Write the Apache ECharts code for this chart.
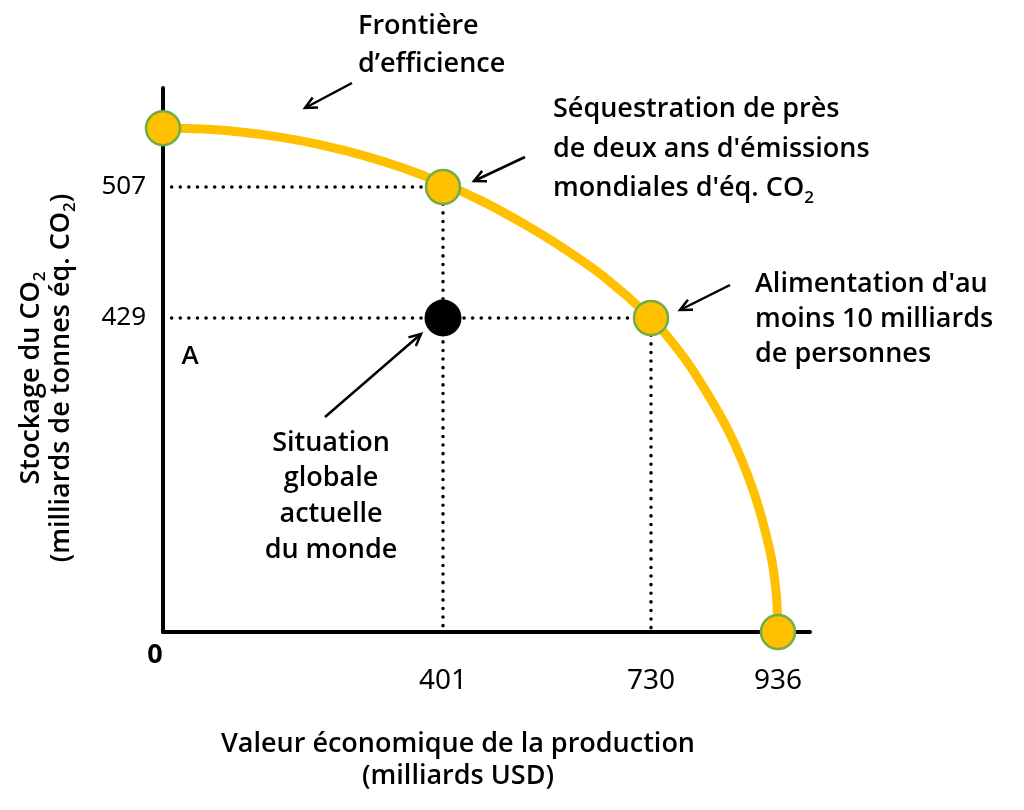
<!DOCTYPE html>
<html><head><meta charset="utf-8">
<script src="https://cdn.jsdelivr.net/npm/echarts@6/dist/echarts.min.js"></script>
<style>html,body{margin:0;padding:0;background:#fff}#c{width:1024px;height:810px}</style>
</head><body><div id="c"></div>
<script>
// ---------------- data ----------------
const xTickValues = [401, 730, 936];          // milliards USD
const yTickValues = [429, 507];               // milliards de tonnes éq. CO2
const frontierX = [0, 57.3, 114.6, 171.9, 229.1, 286.4, 343.7, 401, 464.3, 527.5, 590.8, 654.1, 730, 764, 799.7, 856.5, 896.7, 923.3, 932.9, 936];
const frontierY = [542.1, 541.5, 539.6, 536.4, 531.8, 525.8, 518.3, 509.2, 498.3, 485.3, 470.7, 454.0, 429, 396.2, 355.2, 273.2, 191.3, 109.3, 54.6, 0];
const pointsX = [0, 401, 730, 936];
const pointsY = [542, 507, 429, 0];
const currentX = [401];
const currentY = [429];
const guideX = [401, 730];
const guideY = [507, 429];

// ---------------- schematic (non-linear) axis scales ----------------
const X_SCALE = { values: [0, 401, 730, 936], pos: [0, 280, 488, 615] };
const Y_SCALE = { values: [0, 429, 507], pos: [0, 314, 445] };
function warp(s, v) {
  const V = s.values, P = s.pos, n = V.length;
  let i = 0;
  while (i < n - 2 && v > V[i + 1]) i++;
  const t = (v - V[i]) / (V[i + 1] - V[i]);
  return P[i] + t * (P[i + 1] - P[i]);
}
const wx = v => warp(X_SCALE, v), wy = v => warp(Y_SCALE, v);
function labelFor(ticks, f) {
  return val => {
    for (const t of ticks) if (Math.abs(f(t) - val) < 0.5) return String(t);
    return '';
  };
}

const FONT = '"Open Sans", "Noto Sans", sans-serif';
const GOLD = '#FFC000', GREEN = '#70AD47';
const FS = 27, FW = 600;

const chart = echarts.init(document.getElementById('c'), null, { renderer: 'canvas' });

function arrow(x1, y1, x2, y2) {
  const ang = Math.atan2(y2 - y1, x2 - x1), L = 13, a = 0.45;
  const h1 = [x2 - L * Math.cos(ang - a), y2 - L * Math.sin(ang - a)];
  const h2 = [x2 - L * Math.cos(ang + a), y2 - L * Math.sin(ang + a)];
  return {
    type: 'group', children: [
      { type: 'line', shape: { x1, y1, x2, y2 }, style: { stroke: '#000', lineWidth: 2.5 } },
      { type: 'polyline', shape: { points: [h1, [x2, y2], h2] }, style: { stroke: '#000', lineWidth: 2.5, fill: null, lineJoin: 'miter' } }
    ]
  };
}
const rich = (lh) => ({
  n: { fontFamily: FONT, fontSize: FS, fontWeight: FW, lineHeight: lh, fill: '#000' },
  s: { fontFamily: FONT, fontSize: 17, fontWeight: FW, lineHeight: lh, fill: '#000', padding: [18, 0, 0, 0] }
});
function txt(x, y, text, align, lh, vAlign, rot) {
  const o = {
    type: 'text', x, y, z: 10,
    style: { text, rich: rich(lh), textAlign: align, textVerticalAlign: vAlign || 'top', fontFamily: FONT, fontSize: FS, fontWeight: FW, lineHeight: lh, fill: '#000' }
  };
  if (rot) o.rotation = rot;
  return o;
}

const dotted = { color: '#000', width: 3.5, type: [0.1, 8.5], cap: 'round' };
const guideSeries = [];
guideX.forEach((gx, i) => {
  guideSeries.push({
    type: 'line', data: [[0, wy(guideY[i])], [wx(gx), wy(guideY[i])]], showSymbol: false, silent: true,
    lineStyle: dotted, z: 1, clip: false
  });
  guideSeries.push({
    type: 'line', data: [[wx(gx), wy(guideY[i])], [wx(gx), 0]], showSymbol: false, silent: true,
    lineStyle: dotted, z: 1, clip: false
  });
});

chart.setOption({
  backgroundColor: '#fff',
  animation: false,
  grid: { left: 163, right: 214, top: 88, bottom: 178 },
  xAxis: {
    type: 'value', min: 0, max: 647,
    splitLine: { show: false }, axisTick: { show: false },
    axisLine: { lineStyle: { color: '#000', width: 4 } },
    axisLabel: {
      customValues: xTickValues.map(wx), formatter: labelFor(xTickValues, wx),
      margin: 35, fontSize: 28, color: '#000', fontFamily: '"Noto Sans", sans-serif'
    }
  },
  yAxis: {
    type: 'value', min: 0, max: 544,
    splitLine: { show: false }, axisTick: { show: false },
    axisLine: { lineStyle: { color: '#000', width: 4 } },
    axisLabel: {
      customValues: yTickValues.map(wy), formatter: labelFor(yTickValues, wy),
      margin: 17, fontSize: 26, color: '#000', fontFamily: '"Noto Sans", sans-serif'
    }
  },
  series: [
    ...guideSeries,
    {
      type: 'line', name: 'Frontière d\u2019efficience', data: frontierX.map((x, i) => [wx(x), wy(frontierY[i])]),
      smooth: 0.3, showSymbol: false, clip: false, z: 3,
      lineStyle: { color: GOLD, width: 9 }
    },
    {
      type: 'scatter', data: pointsX.map((x, i) => [wx(x), wy(pointsY[i])]), clip: false, z: 5,
      symbolSize: 34, itemStyle: { color: GOLD, borderColor: GREEN, borderWidth: 2.5, opacity: 1 }
    },
    {
      type: 'scatter', data: currentX.map((x, i) => [wx(x), wy(currentY[i])]), clip: false, z: 5,
      symbolSize: 37, itemStyle: { color: '#000', opacity: 1 }
    }
  ],
  graphic: [
    txt(358, 7, '{n|Frontière}\n{n|d\u2019efficience}', 'left', 38),
    txt(553, 90, '{n|Séquestration de près}\n{n|de deux ans d\'émissions}\n{n|mondiales d\'éq. CO}{s|2}', 'left', 39.5),
    txt(755, 267, '{n|Alimentation d\'au}\n{n|moins 10 milliards}\n{n|de personnes}', 'left', 35),
    txt(331, 425, '{n|Situation}\n{n|globale}\n{n|actuelle}\n{n|du monde}', 'center', 35.8),
    txt(458, 728, '{n|Valeur économique de la production}\n{n|(milliards USD)}', 'center', 32),
    txt(46, 378, '{n|Stockage du CO}{s|2}\n{n|(milliards de tonnes éq. CO}{s|2}{n|)}', 'center', 30, 'middle', Math.PI / 2),
    { type: 'text', x: 155, y: 655, z: 10, style: { text: '0', fontFamily: FONT, fontSize: 27, fontWeight: 'bold', fill: '#000', textAlign: 'center', textVerticalAlign: 'middle' } },
    { type: 'text', x: 190, y: 357, z: 10, style: { text: 'A', fontFamily: FONT, fontSize: 26, fontWeight: FW, fill: '#000', textAlign: 'center', textVerticalAlign: 'middle' } },
    arrow(352, 83, 305, 108),
    arrow(525, 157, 474, 181),
    arrow(730, 285, 680, 310),
    arrow(325, 417, 421, 334)
  ]
});
</script>
</body></html>
